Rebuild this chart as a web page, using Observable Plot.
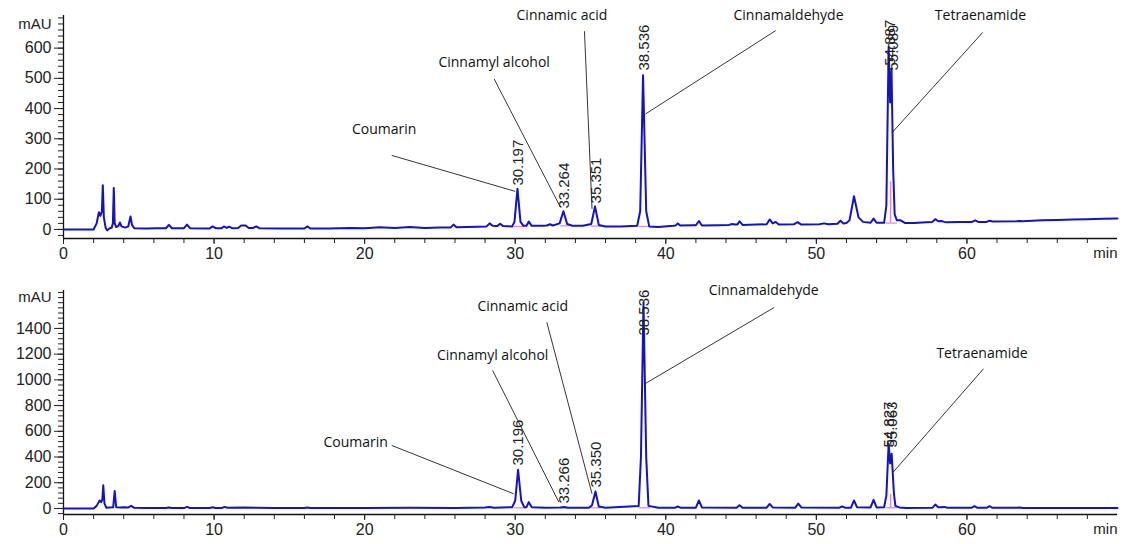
<!DOCTYPE html>
<html>
<head>
<meta charset="utf-8">
<script src="https://cdn.jsdelivr.net/npm/d3@7"></script>
<script src="https://cdn.jsdelivr.net/npm/@observablehq/plot@0.6"></script>
<style>
  html, body { margin: 0; padding: 0; background: #fff; }
  #chart svg { display: block; }
</style>
</head>
<body>
<div id="chart"></div>
<script>
// ---------- data: upper chromatogram (retention time, min / absorbance, mAU)
const topTime = [0,2.0,2.2,2.35,2.45,2.55,2.61,2.68,2.8,2.9,3.05,3.2,3.28,3.34,3.4,3.5,3.65,3.75,3.85,4.1,4.3,4.45,4.55,4.7,5.5,6.2,6.8,7.0,7.2,8.0,8.2,8.4,9.7,9.9,10.1,10.5,10.65,10.85,11.0,11.2,11.6,11.8,12.1,12.3,12.6,12.8,13.0,14.5,16.0,16.2,16.4,17.7,19,20,21,22,23,24,25,25.7,25.9,26.1,27.5,28.1,28.3,28.5,28.8,29.0,29.2,29.8,29.95,30.15,30.35,30.55,30.75,30.9,31.1,31.8,32.1,32.3,32.5,32.95,33.2,33.45,33.8,34.5,35.05,35.3,35.55,36,37,38.1,38.3,38.49,38.7,38.9,39.5,40.5,40.65,40.8,40.95,41.8,42.0,42.2,42.4,43.5,44.2,44.4,44.6,44.75,44.9,45.1,46,46.7,46.9,47.1,47.3,47.5,48.5,48.75,49.0,50.2,50.5,50.8,51.4,51.6,51.8,52.0,52.2,52.5,52.8,53.1,53.6,53.8,54.0,54.5,54.65,54.8,54.9,54.99,55.1,55.2,55.35,55.6,55.9,56.5,57.3,57.7,57.9,58.1,58.3,58.5,58.7,59.5,60.35,60.55,60.75,61.3,61.5,61.7,63.3,63.5,63.7,65,66,67,68,69,70];
const topAbs  = [0,0,20,57,45,60,146,40,5,-3,3,6,20,137,20,8,12,23,10,6,10,43,15,4,3,4,4,15,4,4,16,4,3,10,4,4,10,5,9,4,5,13,13,5,5,10,4,3,3,10,3,3,5,4,7,5,8,5,6,6,16,7,9,10,20,12,11,19,11,10,25,135,25,12,12,26,12,12,13,17,13,20,60,18,12,12,18,76,15,10,10,12,60,510,60,10,8,12,13,20,13,14,14,28,13,14,15,18,16,16,27,15,16,17,33,20,25,16,17,24,16,17,20,17,19,29,20,21,30,110,40,25,22,36,22,22,80,604,420,532,200,50,30,30,21,21,24,25,34,27,28,25,24,25,25,30,25,25,29,26,27,28,27,30,31,33,34,35,36];

// ---------- data: lower chromatogram
const botTime = [0,2.0,2.2,2.4,2.5,2.58,2.64,2.72,2.85,3.0,3.3,3.4,3.5,3.8,4.0,4.3,4.5,4.7,5.5,6.8,7,7.2,8.0,8.2,8.4,9.7,9.9,10.1,10.5,10.7,10.9,12,12.8,14,16.0,16.2,16.4,18,20,23,26,28,28.3,28.6,29.8,30.0,30.19,30.4,30.6,30.75,30.9,31.1,32,33.0,33.27,33.5,34.9,35.1,35.33,35.55,36,38.2,38.35,38.52,38.7,38.85,39.5,40.6,40.8,41.0,42.0,42.2,42.4,44.7,44.9,45.1,46.7,46.9,47.1,48.6,48.8,49.0,51.5,51.7,51.9,52.3,52.5,52.7,53.6,53.8,54.0,54.5,54.65,54.8,54.9,55.0,55.15,55.25,55.5,56,57.7,57.9,58.1,58.3,58.5,58.7,60.3,60.5,60.7,61.3,61.5,61.7,63.3,63.5,63.7,70];
const botAbs  = [0,0,20,62,50,70,180,40,5,8,10,135,10,8,10,8,20,5,3,3,8,3,3,12,4,4,10,4,4,12,5,8,6,3,3,8,3,3,4,5,4,8,12,6,10,60,301,60,10,10,49,10,6,8,12,6,6,25,132,15,6,20,400,1600,400,20,5,5,15,5,6,62,8,6,25,6,6,35,8,6,38,8,5,15,6,6,62,10,8,67,8,10,100,503,350,425,120,20,8,4,5,30,10,10,12,5,5,18,5,5,18,5,5,8,3,3];

// ---------- peak retention-time labels
const topRT      = [30.197, 33.264, 35.351, 38.536, 54.887, 55.089];
const topRTText  = ["30.197","33.264","35.351","38.536","54.887","55.089"];
const topRTAbs   = [145, 69, 86, 526, 542, 526];
const botRT      = [30.196, 33.266, 35.350, 38.536, 54.827, 55.063];
const botRTText  = ["30.196","33.266","35.350","38.536","54.827","55.063"];
const botRTAbs   = [334, 38, 163, 1345, 474, 474];

// ---------- compound annotations
const compounds   = ["Coumarin","Cinnamyl alcohol","Cinnamic acid","Cinnamaldehyde","Tetraenamide"];
const topNameT    = [21.3, 28.6, 33.1, 48.15, 60.9];
const topNameAbs  = [331, 552, 708, 708, 708];
const topLeadT1   = [21.8, 28.6, 34.6, 47.3, 61.05];
const topLeadAbs1 = [245, 498, 656, 658, 652];
const topLeadT2   = [30.0, 33.0, 35.1, 38.65, 55.04];
const topLeadAbs2 = [126, 74, 68, 382, 321];

const botNameT    = [19.4, 28.5, 30.5, 46.5, 61.0];
const botNameAbs  = [513, 1189, 1571, 1695, 1205];
const botLeadT1   = [21.8, 28.5, 32.1, 47.2, 61.1];
const botLeadAbs1 = [490, 1073, 1448, 1563, 1086];
const botLeadT2   = [29.9, 32.9, 35.1, 38.65, 55.1];
const botLeadAbs2 = [114, 49, 114, 972, 282];

// integration baselines (pink): start, end, level; and drop line at valley
const topIntStart = [29.9, 33.0, 35.0, 38.2, 54.6];
const topIntEnd   = [30.6, 33.6, 35.7, 38.95, 55.35];
const topIntAbs   = [10, 12, 11, 10, 21];
const topDropT    = [54.93];
const topDropAbs  = [157];
const botIntStart = [29.9, 33.0, 35.0, 38.2, 54.6];
const botIntEnd   = [30.6, 33.6, 35.7, 38.95, 55.35];
const botIntAbs   = [5, 5, 5, 5, 5];
const botDropT    = [54.93];
const botDropAbs  = [110];

// ticks
const xMajor = [0,10,20,30,40,50,60];
const xMinor = d3.range(0, 70, 2);
const topYMajor = [0,100,200,300,400,500,600];
const topYMinor = d3.range(-20, 701, 20);
const botYMajor = [0,200,400,600,800,1000,1200,1400];
const botYMinor = d3.range(-40, 1681, 40);

const blue = "#1212c8";
const pink = "#e67ee6";
const txt = "#222";

function panel(o) {
  const trace = o.time.map((t, i) => ({t, v: o.abs[i]}));
  const rt = o.rt.map((t, i) => ({t, v: o.rtAbs[i], s: o.rtText[i]}));
  const names = compounds.map((c, i) => ({c, t: o.nameT[i], v: o.nameAbs[i]}));
  const leads = compounds.map((c, i) => ({x1: o.l1t[i], y1: o.l1v[i], x2: o.l2t[i], y2: o.l2v[i]}));
  const ints = o.intS.map((s, i) => ({x1: s, x2: o.intE[i], y: o.intV[i]}));
  const drops = o.dropT.map((t, i) => ({t, y1: o.intV[o.intV.length - 1], y2: o.dropV[i]}));
  const yMin = o.yDomain[0];
  return Plot.plot({
    width: 1142, height: o.height,
    marginLeft: 63, marginRight: 25, marginTop: o.mt, marginBottom: o.mb,
    x: {domain: [0, 70]},
    y: {domain: o.yDomain},
    style: {fontFamily: "'Liberation Sans', Arial, sans-serif", fontSize: "15px", color: txt, background: "#fff", overflow: "visible"},
    marks: [
      Plot.ruleY([yMin], {stroke: "#111", strokeWidth: 1.3}),
      Plot.ruleX([0], {stroke: "#111", strokeWidth: 1.3, y1: yMin, y2: o.yDomain[1]}),
      Plot.axisX({ticks: xMinor, tickSize: 5, tickFormat: () => "", label: null, stroke: "#222"}),
      Plot.axisX({ticks: xMajor, tickSize: 6, tickPadding: 3, tickFormat: d => String(d), label: null, fontSize: 16, fill: txt, stroke: "#222"}),
      Plot.text(["min"], {x: () => 70, y: () => yMin, dy: 9, lineAnchor: "top", textAnchor: "end", fontSize: 15, fill: txt}),
      Plot.axisY({ticks: o.yMinor, tickSize: 5, tickFormat: () => "", label: null, stroke: "#222"}),
      Plot.axisY({ticks: o.yMajor, tickSize: 9, tickPadding: 3, tickFormat: d => String(d), label: null, fontSize: 16, fill: txt, stroke: "#222"}),
      Plot.text(["mAU"], {x: () => 0, y: () => o.mauAbs, dx: -12, textAnchor: "end", fontSize: 15, fill: txt}),
      Plot.link(ints, {x1: "x1", x2: "x2", y1: "y", y2: "y", stroke: pink, strokeWidth: 1.2}),
      Plot.line(trace, {x: "t", y: "v", stroke: blue, strokeWidth: 2, curve: "linear"}),
      Plot.ruleX(drops, {x: "t", y1: "y1", y2: "y2", stroke: pink, strokeWidth: 1.5}),
      Plot.link(leads, {x1: "x1", y1: "y1", x2: "x2", y2: "y2", stroke: "#000", strokeWidth: 0.8}),
      Plot.text(names, {x: "t", y: "v", text: "c", fontFamily: "'Open Sans', sans-serif", fontSize: 14, fill: "#111"}),
      Plot.text(rt, {x: "t", y: "v", text: "s", rotate: -90, textAnchor: "start", lineAnchor: "middle", fontSize: 15, fill: "#222"})
    ]
  });
}

const chart = document.getElementById("chart");
chart.append(panel({
  height: 270, mt: 15, mb: 32, yDomain: [-30, 708], mauAbs: 678,
  time: topTime, abs: topAbs, rt: topRT, rtText: topRTText, rtAbs: topRTAbs,
  nameT: topNameT, nameAbs: topNameAbs,
  l1t: topLeadT1, l1v: topLeadAbs1, l2t: topLeadT2, l2v: topLeadAbs2,
  intS: topIntStart, intE: topIntEnd, intV: topIntAbs, dropT: topDropT, dropV: topDropAbs,
  yMajor: topYMajor, yMinor: topYMinor
}));
chart.append(panel({
  height: 274, mt: 20, mb: 30, yDomain: [-47, 1695], mauAbs: 1640,
  time: botTime, abs: botAbs, rt: botRT, rtText: botRTText, rtAbs: botRTAbs,
  nameT: botNameT, nameAbs: botNameAbs,
  l1t: botLeadT1, l1v: botLeadAbs1, l2t: botLeadT2, l2v: botLeadAbs2,
  intS: botIntStart, intE: botIntEnd, intV: botIntAbs, dropT: botDropT, dropV: botDropAbs,
  yMajor: botYMajor, yMinor: botYMinor
}));
</script>
</body>
</html>
